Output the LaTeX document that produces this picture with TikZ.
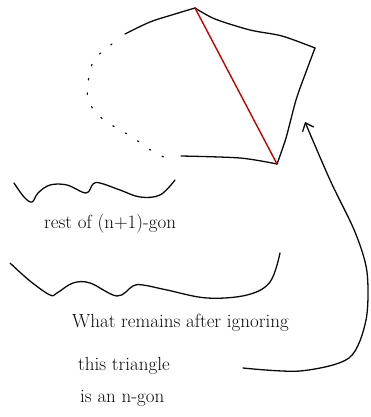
\documentclass[tikz,border=0pt]{standalone}
\usepackage{tikz}
\usetikzlibrary{arrows.meta}
\definecolor{ink}{RGB}{10,10,10}
\definecolor{chord}{RGB}{200,0,0}
\tikzset{
  pen/.style={draw=ink,line width=1.3pt,line cap=round,line join=round},
  redpen/.style={draw=chord,line width=1.4pt,line cap=round},
  dotpen/.style={draw=ink,line width=1.2pt,line cap=round,dash pattern=on 1.5pt off 13pt},
  note/.style={font=\fontsize{19}{22}\selectfont,anchor=base west,inner sep=0pt,text=ink},
}

\begin{document}
\begin{tikzpicture}[x=1pt,y=-1pt]
\useasboundingbox (0,0) rectangle (370,417);
% polygon corners
\coordinate (top) at (195,8);
\coordinate (rgt) at (315,48);
\coordinate (bot) at (277,164);
% sides of the polygon
\draw[pen] plot[smooth] coordinates {(125,34) (150,22) (175,14) (top)};
\draw[pen] plot[smooth] coordinates {(top) (215,19) (250,30) (282,36) (rgt)};
\draw[pen] plot[smooth] coordinates {(rgt) (306,72) (296,100) (286,138) (bot)};
\draw[pen] plot[smooth] coordinates {(181,156) (240,158) (bot)};
% omitted sides
\draw[dotpen] plot[smooth] coordinates {(112,44) (94,60) (88,83) (88,99) (96,113) (110,124) (132,137) (152,151) (168,159)};
% the triangle's chord
\draw[redpen] (top) -- (bot);
% upper brace
\draw[pen] plot[smooth,tension=0.6] coordinates {(14,183) (24,197) (32,202) (38,193) (50,185) (67,185) (86,193) (93,184) (100,183) (120,190) (140,197) (160,195) (175,180)};
\node[note] (rest) at (44,228) {rest of (n+1)-gon};
% lower brace
\draw[pen] plot[smooth,tension=0.6] coordinates {(10,263) (30,281) (50,295) (57,293) (73,283) (90,283) (117,296) (133,286) (143,285) (167,290) (207,298) (247,295) (270,282) (280,253)};
% explanation
\node[note] (line1) at (72,327) {What remains after ignoring};
\node[note] (line2) at (78,370) {this triangle};
\node[note] (line3) at (80,402) {is an n-gon};
% pointer back to the polygon
\coordinate (tail) at (243,368);
\coordinate (tip) at (305,122);
\draw[pen,-{Straight Barb[length=7pt,width=12pt]}] plot[smooth] coordinates {(tail) (300,371) (349,358) (366,320) (367,272) (355,232) (330,180) (tip)};
\end{tikzpicture}
\end{document}
